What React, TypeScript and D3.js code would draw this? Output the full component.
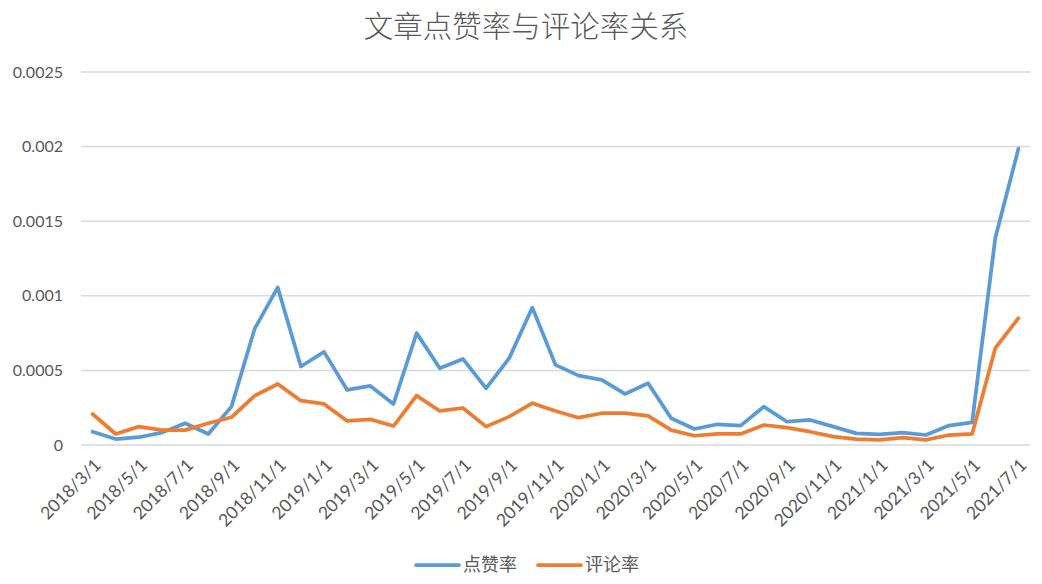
import React from "react";
import * as d3 from "d3";

const categories: string[] = [
  "2018/3/1","2018/4/1","2018/5/1","2018/6/1","2018/7/1","2018/8/1","2018/9/1","2018/10/1","2018/11/1","2018/12/1",
  "2019/1/1","2019/2/1","2019/3/1","2019/4/1","2019/5/1","2019/6/1","2019/7/1","2019/8/1","2019/9/1","2019/10/1",
  "2019/11/1","2019/12/1","2020/1/1","2020/2/1","2020/3/1","2020/4/1","2020/5/1","2020/6/1","2020/7/1","2020/8/1",
  "2020/9/1","2020/10/1","2020/11/1","2020/12/1","2021/1/1","2021/2/1","2021/3/1","2021/4/1","2021/5/1","2021/6/1",
  "2021/7/1",
];

const likeRate: number[] = [
  0.000089, 0.00004, 0.000052, 0.000083, 0.000146, 0.000074, 0.000257, 0.000778, 0.001056, 0.000526,
  0.000624, 0.000369, 0.000396, 0.000275, 0.00075, 0.000515, 0.000577, 0.00038, 0.000582, 0.000921,
  0.000537, 0.000465, 0.000436, 0.000342, 0.000414, 0.000179, 0.000107, 0.000139, 0.00013, 0.000257,
  0.000156, 0.000168, 0.000123, 0.000078, 0.000072, 0.000083, 0.000067, 0.00013, 0.000152, 0.001387,
  0.001986,
];

const commentRate: number[] = [
  0.000208, 0.000074, 0.000123, 0.0001, 0.0001, 0.000146, 0.000186, 0.000329, 0.000409, 0.000297,
  0.000275, 0.000161, 0.000172, 0.000127, 0.000331, 0.000228, 0.000248, 0.000123, 0.00019, 0.00028,
  0.000228, 0.000183, 0.000213, 0.000213, 0.000195, 0.0001, 0.000062, 0.000074, 0.000074, 0.000134,
  0.000116, 0.000089, 0.000056, 0.00004, 0.000034, 0.000049, 0.000034, 0.000067, 0.000074, 0.000649,
  0.00085,
];

const yTicks: number[] = [0, 0.0005, 0.001, 0.0015, 0.002, 0.0025];
const yTickLabels: string[] = ["0", "0.0005", "0.001", "0.0015", "0.002", "0.0025"];

const seriesNames: string[] = ["点赞率", "评论率"];
const seriesColors: string[] = ["#5B9BD5", "#ED7D31"];

const W = 1042;
const H = 584;
const FONT = "Lato, 'Noto Sans CJK SC', sans-serif";
const CJK = "'Noto Sans CJK SC', sans-serif";

export default function App() {
  const x = d3.scaleBand<string>().domain(categories).range([81, 1030]);
  const cx = (c: string) => (x(c) as number) + x.bandwidth() / 2;
  const y = d3.scaleLinear().domain([0, 0.0025]).range([445, 72]);

  const line = d3
    .line<number>()
    .x((_, i) => cx(categories[i]))
    .y((d) => y(d));

  const series = [likeRate, commentRate];

  return (
    <svg
      width={W}
      height={H}
      style={{ position: "absolute", left: 0, top: 0, background: "#fff" }}
    >
      <rect x={0} y={0} width={W} height={H} fill="#fff" />
      <text
        x={526}
        y={37}
        textAnchor="middle"
        fontFamily={CJK}
        fontSize={29.5}
        fontWeight={300}
        fill="#595959"
      >
        文章点赞率与评论率关系
      </text>

      {yTicks.map((t, i) => (
        <g key={t}>
          <line x1={81} x2={1030} y1={y(t)} y2={y(t)} stroke="#D9D9D9" strokeWidth={1.5} />
          <text
            x={63}
            y={y(t)}
            dy="0.35em"
            textAnchor="end"
            fontFamily={FONT}
            fontSize={16}
            fill="#595959"
          >
            {yTickLabels[i]}
          </text>
        </g>
      ))}

      {categories.map((c, i) =>
        i % 2 === 0 ? (
          <text
            key={c}
            transform={`translate(${cx(c) + 5},${462}) rotate(-45)`}
            dy="0.35em"
            textAnchor="end"
            fontFamily={FONT}
            fontSize={17.5}
            fill="#595959"
          >
            {c}
          </text>
        ) : null
      )}

      {series.map((s, k) => (
        <path
          key={k}
          d={line(s) as string}
          fill="none"
          stroke={seriesColors[k]}
          strokeWidth={3.75}
          strokeLinejoin="round"
          strokeLinecap="round"
        />
      ))}

      {seriesNames.map((n, k) => {
        const lx = k === 0 ? 416 : 538;
        return (
          <g key={n}>
            <line
              x1={lx}
              x2={lx + 43}
              y1={565}
              y2={565}
              stroke={seriesColors[k]}
              strokeWidth={3.75}
              strokeLinecap="round"
            />
            <text
              x={lx + 47}
              y={565}
              dy="0.35em"
              fontFamily={CJK}
              fontSize={18}
              fill="#595959"
            >
              {n}
            </text>
          </g>
        );
      })}
    </svg>
  );
}
